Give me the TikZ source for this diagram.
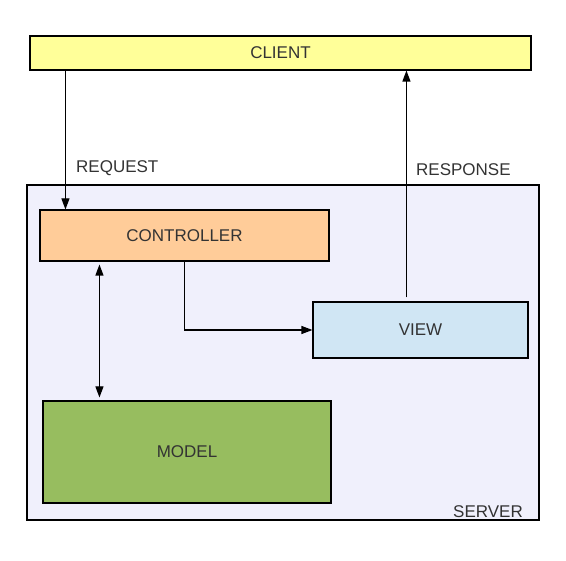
\documentclass[tikz,border=0pt]{standalone}
\usepackage{fontspec}
\setmainfont{Liberation Sans}
\usetikzlibrary{positioning,calc,arrows.meta}

\definecolor{clientc}{HTML}{FFFF99}
\definecolor{serverc}{HTML}{F0F0FC}
\definecolor{ctrlc}{HTML}{FFCC99}
\definecolor{viewc}{HTML}{D0E6F4}
\definecolor{modelc}{HTML}{97BD5F}
\definecolor{txtc}{HTML}{333333}

\begin{document}
\begin{tikzpicture}[x=1pt,y=-1pt,
  every node/.style={font=\fontsize{17}{20}\selectfont,text=txtc},
  box/.style={draw,line width=1.1pt,rectangle,inner sep=0pt},
  lbl/.style={inner sep=0pt},
  arr/.style={line width=1.1pt,-{Triangle[length=11pt,width=8pt]}},
  darr/.style={line width=1.1pt,{Triangle[length=11pt,width=8pt]}-{Triangle[length=11pt,width=8pt]}}]
\useasboundingbox (0,0) rectangle (566,561);

\node[box,fill=clientc,minimum width=501pt,minimum height=34pt] (client) at (280.5,53) {CLIENT};
\node[box,fill=serverc,minimum width=512pt,minimum height=335pt] (server) at (283,352.5) {};
\node[box,fill=ctrlc,minimum width=289pt,minimum height=51pt] (controller) at (184.5,235.5) {CONTROLLER};
\node[box,fill=viewc,minimum width=215pt,minimum height=56pt] (view) at (420.5,330) {VIEW};
\node[box,fill=modelc,minimum width=288pt,minimum height=102pt] (model) at (187,452) {MODEL};

\node[lbl,anchor=west] (request) at (76,168.5) {REQUEST};
\node[lbl,anchor=west] (response) at (416,169.5) {RESPONSE};
\node[lbl,anchor=east] (serverlabel) at (523,511.5) {SERVER};

\draw[arr] ([xshift=26pt]controller.north west |- client.south) -- ([xshift=26pt]controller.north west);
\draw[arr] ([xshift=94pt,yshift=4pt]view.north west) -- ([xshift=94pt]view.north west |- client.south);
\draw[arr] (controller.south) -- (controller.south |- view.west) -- (view.west);
\draw[darr] ([xshift=60pt,yshift=-3pt]controller.south west) -- ([xshift=60pt,yshift=3pt]controller.south west |- model.north);
\end{tikzpicture}
\end{document}
